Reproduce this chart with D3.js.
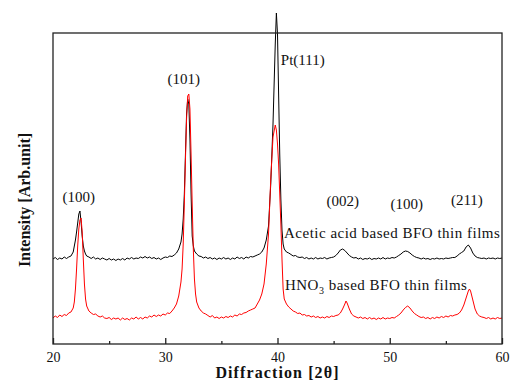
<!DOCTYPE html>
<html>
<head>
<meta charset="utf-8">
<script src="https://cdn.jsdelivr.net/npm/d3@7"></script>
<style>
  body { margin: 0; background: #fff; }
  svg { display: block; overflow: visible; }
  text { font-family: "Times New Roman", "Liberation Serif", serif; fill: #111; }
</style>
</head>
<body>
<div id="chart"></div>
<script>
// XRD scans, [2theta, intensity in arb. units]
const aceticScan = [
  [20.0,85],[20.2,86.5],[20.4,84.5],[20.6,86],[20.8,85],[21.0,87],[21.2,85.5],[21.4,87],[21.6,88],[21.8,92],
  [21.9,98],[22.0,104],[22.1,112],[22.2,121],[22.3,130],[22.4,133],[22.5,122],[22.6,108],[22.7,98],[22.8,93],
  [22.9,90],[23.0,88],[23.2,87],[23.4,85.5],[23.6,87],[23.8,85],[24.0,86],[24.2,84.5],[24.4,86],[24.6,85],
  [24.8,84],[25.0,85.5],[25.2,84],[25.4,85],[25.6,83.5],[25.8,85],[26.0,84],[26.2,85.5],[26.4,84],[26.6,86],
  [26.8,85],[27.0,86.5],[27.2,85],[27.4,86],[27.6,85.5],[27.8,87],[28.0,86],[28.2,87.5],[28.4,86],[28.6,87],
  [28.8,85.5],[29.0,86.5],[29.2,85],[29.4,86],[29.6,84.5],[29.8,86],[30.0,87],[30.2,86.5],[30.4,88],[30.6,87.5],
  [30.8,89],[31.0,91],[31.2,95],[31.4,102],[31.5,110],[31.6,125],[31.7,150],[31.8,190],[31.9,230],[32.0,245],
  [32.1,240],[32.2,205],[32.3,150],[32.4,108],[32.5,98],[32.6,93],[32.8,90],[33.0,88],[33.2,87.5],[33.4,86],
  [33.6,87],[33.8,85.5],[34.0,86.5],[34.2,85],[34.4,86],[34.6,84.5],[34.8,86],[35.0,85],[35.2,86.5],[35.4,85],
  [35.6,86],[35.8,84.5],[36.0,86],[36.2,85],[36.4,87],[36.6,85.5],[36.8,86.5],[37.0,85],[37.2,87],[37.4,86],
  [37.6,87.5],[37.8,87],[38.0,88],[38.2,89],[38.4,90],[38.6,92],[38.8,96],[39.0,104],[39.2,118],[39.4,160],
  [39.6,220],[39.8,300],[39.9,331],[40.0,310],[40.1,250],[40.2,190],[40.3,145],[40.4,114],[40.5,100],[40.6,95],
  [40.8,92],[41.0,91],[41.2,89.5],[41.4,88],[41.6,88.5],[41.8,87],[42.0,86.5],[42.2,87],[42.4,85.5],[42.6,86.5],
  [42.8,85],[43.0,86],[43.2,85],[43.4,86.5],[43.6,85],[43.8,86],[44.0,85.5],[44.2,86.5],[44.4,85],[44.6,86],
  [44.8,86.5],[45.0,87],[45.2,88.5],[45.4,91],[45.6,94],[45.8,95],[46.0,93.5],[46.2,91],[46.4,88.5],[46.6,87],
  [46.8,86],[47.0,86.5],[47.2,85],[47.4,86],[47.6,84.5],[47.8,85.5],[48.0,85],[48.2,86],[48.4,84.5],[48.6,85.5],
  [48.8,85],[49.0,86],[49.2,85],[49.4,86.5],[49.6,85],[49.8,86],[50.0,85.5],[50.2,86.5],[50.4,86],[50.6,87],
  [50.8,88.5],[51.0,90],[51.2,92],[51.4,93],[51.6,92.5],[51.8,91],[52.0,89],[52.2,87.5],[52.4,86.5],[52.6,86],
  [52.8,85],[53.0,86],[53.2,85],[53.4,85.5],[53.6,84.5],[53.8,85.5],[54.0,85],[54.2,86],[54.4,85],[54.6,85.5],
  [54.8,85],[55.0,86],[55.2,85.5],[55.4,86],[55.6,86.5],[55.8,86.5],[56.0,88],[56.2,90],[56.4,91.5],[56.6,93],
  [56.8,97],[57.0,99],[57.2,96],[57.4,91],[57.6,88],[57.8,86.5],[58.0,86],[58.2,85.5],[58.4,86],[58.6,85],
  [58.8,86],[59.0,85.5],[59.2,86],[59.4,85],[59.6,86],[59.8,85.5],[60.0,86]
];

const hno3Scan = [
  [20.0,26],[20.2,28],[20.4,26.5],[20.6,29],[20.8,27.5],[21.0,29.5],[21.2,28.5],[21.4,31],[21.6,32],[21.8,36],
  [21.9,42],[22.0,55],[22.1,75],[22.2,98],[22.3,115],[22.4,124],[22.5,126],[22.6,112],[22.7,85],[22.8,60],
  [22.9,45],[23.0,38],[23.2,33],[23.4,31],[23.6,29.5],[23.8,30],[24.0,28],[24.2,27],[24.4,28],[24.6,26],
  [24.8,25.5],[25.0,26.5],[25.2,24.5],[25.4,26],[25.6,25],[25.8,26],[26.0,24],[26.2,26],[26.4,24.5],[26.6,25.5],
  [26.8,24],[27.0,26],[27.2,25],[27.4,27],[27.6,25],[27.8,26.5],[28.0,25],[28.2,27],[28.4,26],[28.6,28],
  [28.8,27],[29.0,29],[29.2,27.5],[29.4,29],[29.6,28],[29.8,30],[30.0,29],[30.2,31],[30.4,30.5],[30.6,33],
  [30.8,36],[31.0,40],[31.2,48],[31.4,62],[31.5,75],[31.6,100],[31.7,140],[31.8,185],[31.9,225],[32.0,248],
  [32.1,250],[32.2,235],[32.3,190],[32.4,140],[32.5,95],[32.6,65],[32.7,50],[32.8,42],[33.0,36],[33.2,33],
  [33.4,31],[33.6,30],[33.8,28.5],[34.0,27],[34.2,28.5],[34.4,26],[34.6,27],[34.8,25.5],[35.0,27],[35.2,26],
  [35.4,27.5],[35.6,26.5],[35.8,28],[36.0,27],[36.2,29],[36.4,28],[36.6,30],[36.8,29.5],[37.0,31],[37.2,31.5],
  [37.4,33],[37.6,34],[37.8,35],[38.0,36],[38.2,40],[38.4,44],[38.6,50],[38.8,60],[39.0,80],[39.2,110],
  [39.4,165],[39.6,207],[39.8,219],[39.9,214],[40.0,200],[40.1,180],[40.2,150],[40.3,120],[40.4,85],[40.5,55],
  [40.6,45],[40.8,40],[41.0,37],[41.2,35],[41.4,33],[41.6,32],[41.8,30.5],[42.0,31],[42.2,29],[42.4,29.5],
  [42.6,28],[42.8,28.5],[43.0,27],[43.2,28],[43.4,26.5],[43.6,27.5],[43.8,26],[44.0,27],[44.2,26],[44.4,27.5],
  [44.6,26.5],[44.8,28],[45.0,27.5],[45.2,28.5],[45.4,29],[45.6,31],[45.8,35],[46.0,40],[46.1,43],[46.2,41],
  [46.4,35],[46.6,30],[46.8,28],[47.0,27],[47.2,26],[47.4,27],[47.6,25.5],[47.8,26.5],[48.0,25],[48.2,26.5],
  [48.4,25],[48.6,26],[48.8,24.5],[49.0,26],[49.2,25],[49.4,26.5],[49.6,25],[49.8,26],[50.0,25.5],[50.2,26.5],
  [50.4,26],[50.6,27.5],[50.8,29],[51.0,31],[51.2,34],[51.4,36.5],[51.6,38],[51.8,36],[52.0,33],[52.2,30.5],
  [52.4,29],[52.6,27.5],[52.8,26.5],[53.0,27],[53.2,25.5],[53.4,26.5],[53.6,25],[53.8,26.5],[54.0,25.5],[54.2,27],
  [54.4,26],[54.6,27.5],[54.8,26.5],[55.0,28],[55.2,27],[55.4,28.5],[55.6,28],[55.8,29],[56.0,29.5],[56.2,31],
  [56.4,34],[56.6,39],[56.8,46],[57.0,53],[57.1,55],[57.2,53],[57.4,44],[57.6,35],[57.8,30],[58.0,28],
  [58.2,27],[58.4,26.5],[58.6,25.5],[58.8,26.5],[59.0,25],[59.2,26],[59.4,25],[59.6,26.5],[59.8,25.5],[60.0,26]
];

// peak annotations: label, 2theta, label baseline (arb. units)
const peakLabels = ['(100)', '(101)', 'Pt(111)', '(002)', '(100)', '(211)'];
const peakAngles = [22.3, 31.65, 40.3, 45.82, 51.52, 56.87];
const peakLevels = [142, 260.5, 279, 138, 135.5, 139];

const seriesNames = ['Acetic acid based BFO thin films', 'HNO3 based BFO thin films'];
const seriesColors = ['#000000', '#ff0000'];

const majorTicks = [20, 30, 40, 50, 60];
const minorTicks = [25, 35, 45, 55];

const margin = { top: 33, right: 12, bottom: 39, left: 53 };
const width = 514 - margin.left - margin.right;
const height = 383 - margin.top - margin.bottom;

const svg = d3.select('#chart')
  .append('svg')
  .attr('width', 514)
  .attr('height', 383);

const graph = svg.append('g')
  .attr('transform', `translate(${margin.left}, ${margin.top})`);

const x = d3.scaleLinear().domain([20, 60]).range([0, width]);
const y = d3.scaleLinear().domain([0, 311]).range([height, 0]);

const line = d3.line()
  .x(d => x(d[0]))
  .y(d => y(d[1]));

// scans
[aceticScan, hno3Scan].forEach((scan, i) => {
  graph.append('path')
    .datum(scan)
    .attr('fill', 'none')
    .attr('stroke', seriesColors[i])
    .attr('stroke-width', 1)
    .attr('stroke-linejoin', 'round')
    .attr('d', line);
});

// frame
graph.append('rect')
  .attr('width', width)
  .attr('height', height)
  .attr('fill', 'none')
  .attr('stroke', '#222')
  .attr('stroke-width', 1.3);

// bottom axis, ticks pointing inward
const xAxis = graph.append('g')
  .attr('transform', `translate(0, ${height})`)
  .call(d3.axisBottom(x).tickValues(majorTicks).tickSize(-6).tickPadding(8).tickFormat(d3.format('d')));
xAxis.select('.domain').remove();
xAxis.selectAll('line').attr('stroke', '#222').attr('stroke-width', 1.3);
xAxis.selectAll('text')
  .style('font-family', '"Times New Roman", "Liberation Serif", serif')
  .style('font-size', '14px')
  .attr('fill', '#111');

const xMinor = graph.append('g')
  .attr('transform', `translate(0, ${height})`)
  .call(d3.axisBottom(x).tickValues(minorTicks).tickSize(-3).tickFormat(''));
xMinor.select('.domain').remove();
xMinor.selectAll('line').attr('stroke', '#222').attr('stroke-width', 1.3);

// axis titles
svg.append('text')
  .attr('x', margin.left + x(40))
  .attr('y', 378)
  .attr('text-anchor', 'middle')
  .style('font-size', '16px')
  .style('font-weight', 'bold')
  .style('letter-spacing', '1.1px')
  .text('Diffraction [2θ]');

svg.append('text')
  .attr('transform', 'translate(30, 200) rotate(-90)')
  .attr('text-anchor', 'middle')
  .style('font-size', '16px')
  .style('font-weight', 'bold')
  .text('Intensity [Arb.unit]');

// peak labels
graph.selectAll('.peak-label')
  .data(peakLabels)
  .enter()
  .append('text')
  .attr('class', 'peak-label')
  .attr('x', (d, i) => x(peakAngles[i]))
  .attr('y', (d, i) => y(peakLevels[i]))
  .attr('text-anchor', (d, i) => d.startsWith('Pt') ? 'start' : 'middle')
  .style('font-size', '15px')
  .text(d => d);

// series labels
const acLabel = graph.append('text')
  .attr('x', x(40.58))
  .attr('y', y(105.7))
  .style('font-size', '15px')
  .style('letter-spacing', '0.5px')
  .text(seriesNames[0]);

const hnLabel = graph.append('text')
  .attr('x', x(40.66))
  .attr('y', y(54))
  .style('font-size', '15px')
  .style('letter-spacing', '0.5px');
hnLabel.append('tspan').text('HNO');
hnLabel.append('tspan').attr('dy', 4).style('font-size', '10px').text('3');
hnLabel.append('tspan').attr('dy', -4).text(seriesNames[1].slice(4).replace(/^/, ' ').trimEnd());
</script>
</body>
</html>
